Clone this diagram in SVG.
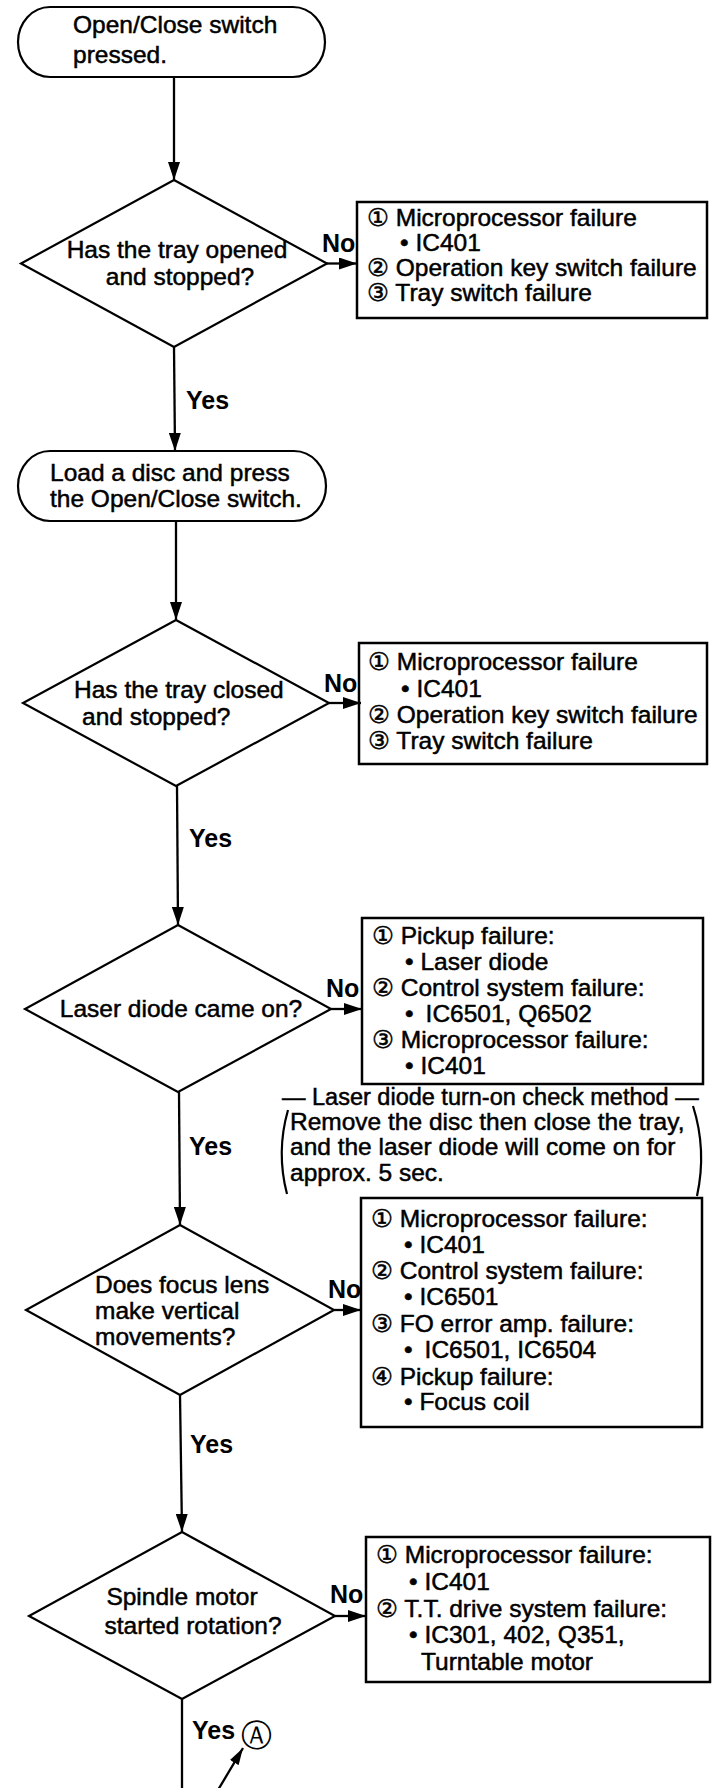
<svg xmlns="http://www.w3.org/2000/svg" width="712" height="1788" viewBox="0 0 712 1788">
<defs>
<marker id="ah" markerUnits="userSpaceOnUse" markerWidth="18" markerHeight="12" refX="18" refY="6" orient="auto"><path d="M0,0 L18,6 L0,12 Z" fill="#000"/></marker>
<marker id="ah2" markerUnits="userSpaceOnUse" markerWidth="17" markerHeight="10" refX="17" refY="5" orient="auto"><path d="M0,0 L17,5 L0,10 Z" fill="#000"/></marker>
</defs>
<style>
.shape{fill:none;stroke:#000;stroke-width:2.2}
.box{fill:none;stroke:#000;stroke-width:2.5}
.conn{fill:none;stroke:#000;stroke-width:2.3}
.arr{marker-end:url(#ah)}
text{font-family:"Liberation Sans",Arial,"DejaVu Sans",sans-serif;font-size:24.5px;fill:#000;stroke:#000;stroke-width:0.5}
.lbl{font-weight:bold;font-size:25px;stroke-width:0}
.c{text-anchor:middle}
</style>
<rect x="0" y="0" width="712" height="1788" fill="#fff"/>

<g id="connectors">
<line class="conn arr" x1="174" y1="77" x2="174" y2="180"/>
<line class="conn arr" x1="174" y1="347" x2="175" y2="451"/>
<line class="conn arr" x1="176" y1="521" x2="176" y2="620"/>
<line class="conn arr" x1="177" y1="786" x2="178" y2="925"/>
<line class="conn arr" x1="179" y1="1092" x2="180" y2="1225"/>
<line class="conn arr" x1="180" y1="1395" x2="182" y2="1532"/>
<line class="conn" x1="182" y1="1699" x2="182" y2="1788"/>
<line class="conn arr" x1="327" y1="263.5" x2="357" y2="263.5"/>
<line class="conn arr" x1="329" y1="703" x2="361" y2="703"/>
<line class="conn arr" x1="331" y1="1009" x2="362" y2="1009"/>
<line class="conn arr" x1="334" y1="1310" x2="361" y2="1310"/>
<line class="conn arr" x1="335" y1="1616" x2="366" y2="1616"/>
<line class="conn" x1="218" y1="1790" x2="243" y2="1748" marker-end="url(#ah2)"/>
<text class="lbl" x="322" y="252">No</text>
<text class="lbl" x="186" y="409">Yes</text>
<text class="lbl" x="324" y="692">No</text>
<text class="lbl" x="189" y="847">Yes</text>
<text class="lbl" x="326" y="997">No</text>
<text class="lbl" x="189" y="1155">Yes</text>
<text class="lbl" x="328" y="1298">No</text>
<text class="lbl" x="190" y="1453">Yes</text>
<text class="lbl" x="330" y="1603">No</text>
<text class="lbl" x="192" y="1739">Yes</text>
<text class="c" x="256" y="1746" style="font-size:31px;stroke-width:0">Ⓐ</text>
</g>

<g id="start1">
<rect class="shape" x="18" y="7" width="307" height="70" rx="32" ry="35"/>
<text x="73" y="33">Open/Close switch</text>
<text x="73" y="63">pressed.</text>
</g>

<g id="decision1">
<polygon class="shape" points="174,180 327,263.5 174,347 21,263.5"/>
<text class="c" x="177" y="258">Has the tray opened</text>
<text class="c" x="180" y="285">and stopped?</text>
</g>

<g id="fail1">
<rect class="box" x="357" y="202" width="350" height="116"/>
<text x="367" y="226">① Microprocessor failure</text>
<text x="400" y="251">• IC401</text>
<text x="367" y="276">② Operation key switch failure</text>
<text x="367" y="301">③ Tray switch failure</text>
</g>

<g id="step2">
<rect class="shape" x="18" y="451" width="308" height="70" rx="32" ry="35"/>
<text x="50" y="481">Load a disc and press</text>
<text x="50" y="507">the Open/Close switch.</text>
</g>

<g id="decision2">
<polygon class="shape" points="176,620 329,703 176,786 23,703"/>
<text x="74" y="698">Has the tray closed</text>
<text x="82" y="725">and stopped?</text>
</g>

<g id="fail2">
<rect class="box" x="359" y="643" width="348" height="121"/>
<text x="368" y="670">① Microprocessor failure</text>
<text x="401" y="697">• IC401</text>
<text x="368" y="723">② Operation key switch failure</text>
<text x="368" y="749">③ Tray switch failure</text>
</g>

<g id="decision3">
<polygon class="shape" points="178,925 331,1009 178,1092 25,1009"/>
<text class="c" x="181" y="1017">Laser diode came on?</text>
</g>

<g id="fail3">
<rect class="box" x="362" y="918" width="341" height="166"/>
<text x="372" y="944">① Pickup failure:</text>
<text x="405" y="970">• Laser diode</text>
<text x="372" y="996">② Control system failure:</text>
<text x="405" y="1022">•<tspan dx="12">IC6501, Q6502</tspan></text>
<text x="372" y="1048">③ Microprocessor failure:</text>
<text x="405" y="1074">• IC401</text>
</g>

<g id="note">
<text x="282" y="1105" style="font-size:23.5px">— Laser diode turn-on check method —</text>
<text x="290" y="1130">Remove the disc then close the tray,</text>
<text x="290" y="1155">and the laser diode will come on for</text>
<text x="290" y="1181">approx. 5 sec.</text>
<path class="shape" d="M288,1110 Q276,1152 287,1194"/>
<path class="shape" d="M693,1106 Q707,1150 697,1196"/>
</g>

<g id="decision4">
<polygon class="shape" points="180,1225 334,1310 180,1395 26,1310"/>
<text x="95" y="1293">Does focus lens</text>
<text x="95" y="1319">make vertical</text>
<text x="95" y="1345">movements?</text>
</g>

<g id="fail4">
<rect class="box" x="361" y="1198" width="341" height="229"/>
<text x="371" y="1227">① Microprocessor failure:</text>
<text x="404" y="1253">• IC401</text>
<text x="371" y="1279">② Control system failure:</text>
<text x="404" y="1305">• IC6501</text>
<text x="371" y="1332">③ FO error amp. failure:</text>
<text x="404" y="1358">•<tspan dx="12">IC6501, IC6504</tspan></text>
<text x="371" y="1385">④ Pickup failure:</text>
<text x="404" y="1410">• Focus coil</text>
</g>

<g id="decision5">
<polygon class="shape" points="182,1532 335,1616 182,1699 29,1616"/>
<text class="c" x="182" y="1605">Spindle motor</text>
<text class="c" x="193" y="1634">started rotation?</text>
</g>

<g id="fail5">
<rect class="box" x="366" y="1537" width="344" height="145"/>
<text x="376" y="1563">① Microprocessor failure:</text>
<text x="409" y="1590">• IC401</text>
<text x="376" y="1617">② T.T. drive system failure:</text>
<text x="409" y="1643">• IC301, 402, Q351,</text>
<text x="421" y="1670">Turntable motor</text>
</g>
</svg>
